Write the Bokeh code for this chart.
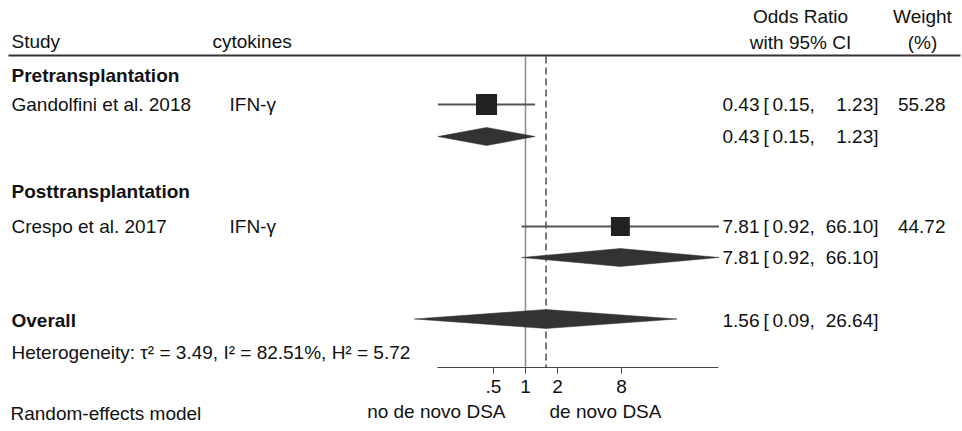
import math
from bokeh.plotting import figure
from bokeh.models import Range1d, LogAxis, FixedTicker, LinearScale
from bokeh.core.properties import value
from bokeh.embed import file_html
from bokeh.resources import INLINE

# ---------------- data ----------------
groups = ["Pretransplantation", "Posttransplantation"]
studies = ["Gandolfini et al. 2018", "Crespo et al. 2017"]
cytokines = ["IFN-γ", "IFN-γ"]
study_or = [0.43, 7.81]
study_lo = [0.15, 0.92]
study_hi = [1.23, 66.10]
weights = [55.28, 44.72]
sub_or = [0.43, 7.81]
sub_lo = [0.15, 0.92]
sub_hi = [1.23, 66.10]
overall_or = [1.56]
overall_lo = [0.09]
overall_hi = [26.64]
het_text = "Heterogeneity: τ² = 3.49, I² = 82.51%, H² = 5.72"
tick_values = [0.5, 1, 2, 8]
tick_labels = [".5", "1", "2", "8"]
side_labels = ["no de novo DSA", "de novo DSA"]

# ---------------- layout ----------------
W, H = 962, 431
X_ONE = 525.0      # pixel of OR = 1
PX_LOG2 = 32.0     # pixels per doubling
group_y = [75, 191]
study_y = [104, 226]
sub_y = [136, 257]
overall_y = 318.5
het_y = 352
axis_y = 367
rule_y = 55
FONT = value("Liberation Sans")
FS = value("19px")
TXT = "#111111"

p = figure(width=W, height=H, x_axis_type="log",
           x_range=Range1d(2 ** (-X_ONE / PX_LOG2), 2 ** ((W - X_ONE) / PX_LOG2)),
           y_range=Range1d(H, 0),
           x_axis_location=None, y_axis_location=None,
           toolbar_location=None, output_backend="svg",
           min_border=0, outline_line_color=None)
p.grid.visible = False
p.extra_x_ranges = {"px": Range1d(0, W)}
p.extra_x_scales = {"px": LinearScale()}

# header rule
p.segment(x0=[8], x1=[960], y0=[rule_y], y1=[rule_y], x_range_name="px",
          line_color="#333333", line_width=2)

# reference lines
p.segment(x0=[1], x1=[1], y0=[rule_y + 1], y1=[axis_y], line_color="#8a8a8a", line_width=1.5)
p.segment(x0=overall_or, x1=overall_or, y0=[rule_y + 1], y1=[axis_y],
          line_color="#222222", line_width=1.2, line_dash="7 4")

# CI lines and squares
p.segment(x0=study_lo, x1=study_hi, y0=study_y, y1=study_y, line_color="#555555", line_width=2)
p.scatter(x=study_or, y=study_y, marker="square",
          size=[2.83 * math.sqrt(w) for w in weights],
          fill_color="#222222", line_color=None)

# diamonds
def diamond(lo, est, hi, y, h):
    return [lo, est, hi, est], [y, y - h, y, y + h]

dxs, dys = [], []
for lo, est, hi, y in zip(sub_lo, sub_or, sub_hi, sub_y):
    xs, ys = diamond(lo, est, hi, y, 9)
    dxs.append(xs); dys.append(ys)
xs, ys = diamond(overall_lo[0], overall_or[0], overall_hi[0], overall_y, 9.5)
dxs.append(xs); dys.append(ys)
p.patches(xs=dxs, ys=dys, fill_color="#333333", line_color="#333333", line_width=0.5)

# axis
ax = LogAxis(ticker=FixedTicker(ticks=tick_values, minor_ticks=[]),
             fixed_location=axis_y,
             bounds=(min(study_lo), max(study_hi)),
             major_label_overrides=dict(zip(tick_values, tick_labels)),
             major_tick_in=0, major_tick_out=6,
             minor_tick_in=0, minor_tick_out=0,
             axis_line_color="#444444", axis_line_width=1.2,
             major_tick_line_color="#444444",
             major_label_text_font="Liberation Sans",
             major_label_text_font_size="19px",
             major_label_text_color=TXT,
             major_label_standoff=6)
p.add_layout(ax, "below")

def txt(x, y, t, align="left", bold=False):
    p.text(x=x, y=y, text=t, x_range_name="px", text_font=FONT, text_font_size=FS,
           text_color=TXT, text_align=align, text_baseline="middle",
           text_font_style="bold" if bold else "normal")

# headers
txt([11], [41], ["Study"])
txt([212], [41], ["cytokines"])
txt([800, 800], [16, 42], ["Odds Ratio", "with 95% CI"], align="center")
txt([922, 922], [16, 42], ["Weight", "(%)"], align="center")

# left column
txt([11] * len(groups), group_y, groups, bold=True)
txt([11] * len(studies), study_y, studies)
txt([229] * len(cytokines), study_y, cytokines)
txt([11], [overall_y + 1], ["Overall"], bold=True)
txt([11], [het_y], [het_text])
txt([10], [413], ["Random-effects model"])

# axis side labels
txt([505], [411], [side_labels[0]], align="right")
txt([549], [411], [side_labels[1]], align="left")

# right column
rc_y = study_y + sub_y + [overall_y + 1]
rc_est = study_or + sub_or + overall_or
rc_lo = study_lo + sub_lo + overall_lo
rc_hi = study_hi + sub_hi + overall_hi
n = len(rc_y)
txt([722] * n, rc_y, [f"{v:.2f}" for v in rc_est])
txt([763] * n, rc_y, ["["] * n)
txt([772] * n, rc_y, [f"{v:.2f}," for v in rc_lo])
txt([878] * n, rc_y, [f"{v:.2f}]" for v in rc_hi], align="right")
txt([945] * len(weights), study_y, [f"{w:.2f}" for w in weights], align="right")

open("out.html", "w").write(file_html(p, INLINE))
